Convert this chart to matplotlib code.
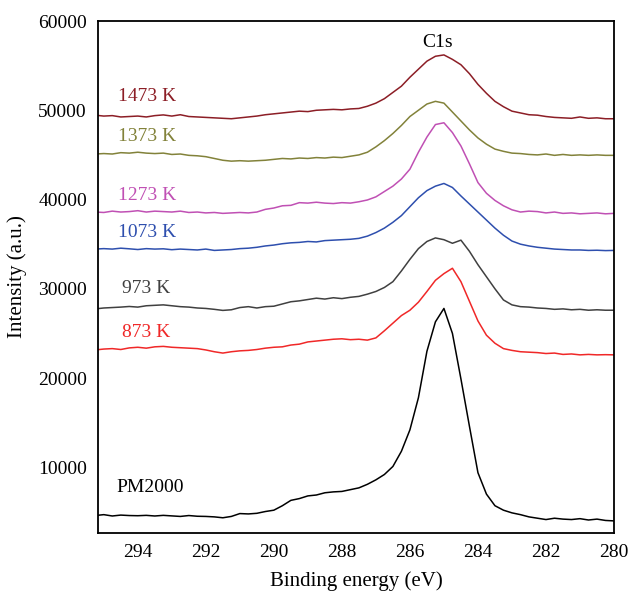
import matplotlib
matplotlib.use("Agg")
import matplotlib.pyplot as plt

plt.rcParams['font.family'] = ['Liberation Serif', 'DejaVu Serif']

energy = [295.25, 295.0, 294.75, 294.5, 294.25, 294.0, 293.75, 293.5, 293.25, 293.0,
          292.75, 292.5, 292.25, 292.0, 291.75, 291.5, 291.25, 291.0, 290.75, 290.5,
          290.25, 290.0, 289.75, 289.5, 289.25, 289.0, 288.75, 288.5, 288.25, 288.0,
          287.75, 287.5, 287.25, 287.0, 286.75, 286.5, 286.25, 286.0, 285.75, 285.5,
          285.25, 285.0, 284.75, 284.5, 284.25, 284.0, 283.75, 283.5, 283.25, 283.0,
          282.75, 282.5, 282.25, 282.0, 281.75, 281.5, 281.25, 281.0, 280.75, 280.5,
          280.25, 280.0]

pm2000 = [4600, 4700, 4550, 4650, 4600, 4580, 4620, 4550, 4620, 4560,
          4500, 4600, 4520, 4500, 4450, 4350, 4500, 4820, 4780, 4850,
          5050, 5200, 5700, 6300, 6500, 6800, 6900, 7150, 7250, 7300,
          7500, 7700, 8100, 8600, 9200, 10100, 11800, 14200, 17800, 23000,
          26300, 27800, 25000, 19900, 14600, 9400, 7000, 5700, 5200, 4900,
          4700, 4450, 4300, 4150, 4300, 4200, 4150, 4250, 4100, 4200,
          4050, 4000]

k873 = [23150, 23250, 23300, 23200, 23380, 23450, 23350, 23500, 23550, 23450,
        23400, 23350, 23300, 23150, 22950, 22800, 22950, 23050, 23100, 23200,
        23350, 23450, 23500, 23700, 23800, 24050, 24150, 24250, 24350, 24400,
        24300, 24350, 24250, 24500, 25300, 26150, 27000, 27600, 28500, 29700,
        30950, 31700, 32300, 30800, 28600, 26400, 24800, 23900, 23300, 23100,
        22950, 22900, 22850, 22750, 22800, 22650, 22700, 22600, 22650, 22600,
        22620, 22600]

k973 = [27750, 27850, 27900, 27950, 28020, 27950, 28100, 28150, 28200, 28100,
        28000, 27950, 27850, 27800, 27700, 27580, 27650, 27900, 28000, 27850,
        28000, 28050, 28300, 28550, 28650, 28800, 28950, 28850, 29000, 28900,
        29050, 29150, 29400, 29700, 30150, 30800, 32000, 33300, 34500, 35300,
        35700, 35500, 35100, 35450, 34200, 32700, 31350, 30000, 28750, 28200,
        28000, 27950, 27850, 27800, 27700, 27750, 27650, 27700, 27600, 27650,
        27600, 27600]

k1073 = [34450, 34500, 34450, 34550, 34480, 34400, 34500, 34450, 34480, 34380,
         34450, 34400, 34350, 34450, 34300, 34350, 34400, 34500, 34550, 34650,
         34800, 34900, 35050, 35150, 35200, 35300, 35250, 35400, 35450, 35500,
         35550, 35650, 35900, 36300, 36800, 37450, 38200, 39200, 40200, 41000,
         41500, 41800, 41350, 40400, 39500, 38600, 37700, 36800, 36000, 35350,
         35000, 34800, 34650, 34550, 34450, 34400, 34350, 34350, 34300, 34320,
         34280, 34300]

k1273 = [38600, 38550, 38700, 38600, 38650, 38750, 38600, 38700, 38650, 38600,
         38700, 38550, 38600, 38500, 38550, 38450, 38500, 38550, 38500, 38600,
         38900, 39050, 39300, 39350, 39650, 39600, 39700, 39600, 39550, 39650,
         39600, 39750, 39950, 40300, 40900, 41500, 42300, 43400, 45300, 47000,
         48400, 48600, 47500, 46000, 44000, 41900, 40700, 39900, 39300, 38850,
         38600, 38700, 38650, 38500, 38600, 38450, 38500, 38400, 38450, 38500,
         38400, 38450]

k1373 = [45100, 45150, 45100, 45250, 45200, 45300, 45200, 45150, 45200, 45050,
         45100, 44950, 44900, 44800, 44600, 44400, 44300, 44350, 44300, 44350,
         44400, 44500, 44600, 44550, 44650, 44600, 44700, 44650, 44750, 44700,
         44850, 45000, 45300, 45900, 46600, 47400, 48300, 49300, 50000, 50700,
         51000, 50800, 49800, 48800, 47800, 46900, 46200, 45650, 45400, 45200,
         45150, 45050, 45000, 45100, 44950, 45050, 44950, 45000, 44950, 45000,
         44950, 44950]

k1473 = [49450, 49350, 49400, 49250, 49300, 49350, 49250, 49400, 49480, 49350,
         49500, 49300, 49250, 49200, 49150, 49100, 49050, 49150, 49250, 49350,
         49500, 49600, 49700, 49800, 49900, 49850, 50000, 50050, 50100, 50050,
         50150, 50200, 50450, 50800, 51300, 52000, 52700, 53700, 54600, 55500,
         56050, 56200, 55700, 55100, 54100, 52900, 51900, 51000, 50400, 49900,
         49700, 49500, 49450, 49300, 49200, 49150, 49100, 49250, 49100, 49150,
         49050, 49050]

series_names = ["PM2000", "873 K", "973 K", "1073 K", "1273 K", "1373 K", "1473 K"]
series_data = [pm2000, k873, k973, k1073, k1273, k1373, k1473]
series_colors = ["#000000", "#f02828", "#404040", "#2e4fae", "#c050b4", "#82823a", "#8c1e26"]
label_x = [294.62, 294.45, 294.45, 294.58, 294.58, 294.58, 294.58]
label_y = [7700, 25150, 30000, 36350, 40450, 47050, 51500]

x_ticks = [294, 292, 290, 288, 286, 284, 282, 280]
y_ticks = [10000, 20000, 30000, 40000, 50000, 60000]

fig = plt.figure(figsize=(6.33, 5.95), dpi=100)
ax = fig.add_axes([98 / 633, 1 - 532.5 / 595, (614 - 98) / 633, (532.5 - 21) / 595])

for name, data, col, lx, ly in zip(series_names, series_data, series_colors, label_x, label_y):
    ax.plot(energy, data, color=col, lw=1.1)
    ax.text(lx, ly, name, color=col, fontsize=14, ha='left', va='center')

ax.text(285.2, 57550, "C1s", color='black', fontsize=14, ha='center', va='center')

ax.set_xlim(295.17, 280)
ax.set_ylim(2700, 60000)
ax.set_xticks(x_ticks)
ax.set_yticks(y_ticks)
ax.tick_params(length=0, labelsize=14, pad=8)
for s in ax.spines.values():
    s.set_linewidth(1.3)
    s.set_color('black')
ax.set_xlabel("Binding energy (eV)", fontsize=15, labelpad=8)
ax.set_ylabel("Intensity (a.u.)", fontsize=15, labelpad=8)

fig.savefig("out.png", dpi=100)
